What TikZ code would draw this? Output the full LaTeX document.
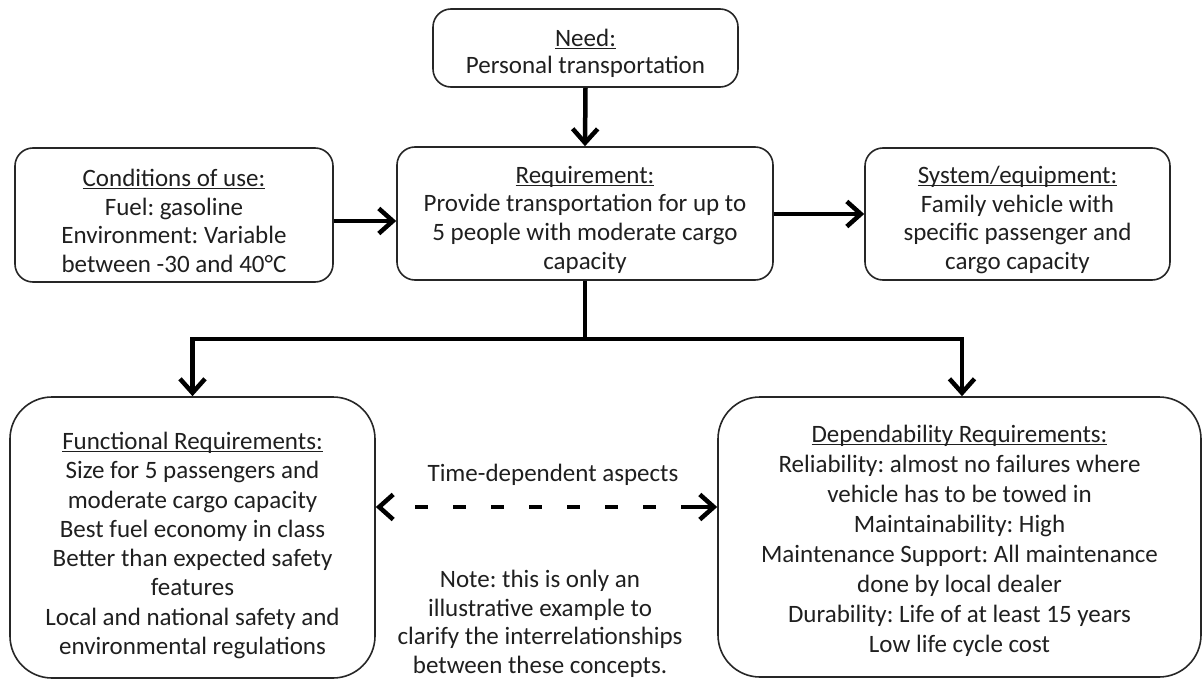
\documentclass[tikz,border=0pt]{standalone}
\usepackage{fontspec}
\setmainfont{Carlito}
\usetikzlibrary{arrows.meta}
% heading with an underline set just below the baseline
\newcommand\ulhead[1]{\setbox0\hbox{#1}\rlap{\rule[-2.8pt]{\wd0}{1.2pt}}\box0}
\tikzset{barb/.tip={Straight Barb[length=14pt,width=25pt]}}
\begin{document}
\frenchspacing
\begin{tikzpicture}[x=1pt,y=-1pt,
  box/.style={draw=black!85, line width=1.6pt, rounded corners=18pt, inner sep=0pt},
  bigbox/.style={box, rounded corners=42pt},
  txt/.style={align=center, inner sep=0pt, text=black!88, font=\fontsize{25}{28.7}\selectfont},
  conn/.style={line width=4.5pt, -{barb}},
]
\useasboundingbox (0,0) rectangle (1203,682);

% boxes
\node[box, minimum width=305pt, minimum height=78pt] (need) at (585.5,48) {};
\node[box, minimum width=318pt, minimum height=134pt] (cond) at (174,215) {};
\node[box, minimum width=376pt, minimum height=133pt] (req) at (585,213.5) {};
\node[box, minimum width=305pt, minimum height=132pt] (sys) at (1017.5,214) {};
\node[bigbox, minimum width=365pt, minimum height=281pt] (fun) at (192.5,537.5) {};
\node[bigbox, minimum width=483pt, minimum height=280pt] (dep) at (959.5,537) {};

% box contents
\node[txt, font=\fontsize{25}{27}\selectfont] (needt) at ([yshift=-5.5pt]need.center)
  {\ulhead{Need:}\\Personal transportation};
\node[txt] (condt) at ([yshift=-6pt]cond.center)
  {\ulhead{Conditions of use:}\\Fuel: gasoline\\Environment: Variable\\between -30 and 40°C};
\node[txt] (reqt) at ([yshift=-6pt]req.center)
  {\ulhead{Requirement:}\\Provide transportation for up to\\5 people with moderate cargo\\capacity};
\node[txt] (syst) at ([yshift=-6pt]sys.center)
  {\ulhead{System/equipment:}\\Family vehicle with\\specific passenger and\\cargo capacity};
\node[txt, font=\fontsize{25}{29.3}\selectfont] (funt) at ([yshift=-8pt]fun.center)
  {\ulhead{Functional Requirements:}\\Size for 5 passengers and\\moderate cargo capacity\\Best fuel economy in class\\Better than expected safety\\features\\Local and national safety and\\environmental regulations};
\node[txt, font=\fontsize{25}{30}\selectfont] (dept) at ([yshift=-4pt]dep.center)
  {\ulhead{Dependability Requirements:}\\Reliability: almost no failures where\\vehicle has to be towed in\\Maintainability: High\\Maintenance Support: All maintenance\\done by local dealer\\Durability: Life of at least 15 years\\Low life cycle cost};

% free texts
\node[txt] (tda) at (553,475) {Time-dependent aspects};
\node[txt, font=\fontsize{25}{28.5}\selectfont] (note) at (540,624)
  {Note: this is only an\\illustrative example to\\clarify the interrelationships\\between these concepts.};

\coordinate (split) at (585,339);
\coordinate (dl) at (fun.east |- 0,507);
\coordinate (dr) at (dep.west |- 0,507);

% connectors
\draw[conn] (need.south) -- (req.north);
\draw[conn] ([yshift=-6pt]cond.east) -- ([yshift=-6pt]cond.east -| req.west);
\draw[conn] (req.east |- sys.west) -- (sys.west);
\draw[line width=4.5pt] (req.south) -- (split);
\draw[conn] (split) -| (fun.north);
\draw[conn] (split) -| ([xshift=2.5pt]dep.north);
\draw[line width=4.5pt, {barb}-{barb},
  dash pattern=on 31pt off 25pt on 13pt off 25pt on 13pt off 25pt on 13pt off 25pt
    on 13pt off 25pt on 13pt off 25pt on 13pt off 25pt on 13pt off 60pt]
  (dr) -- (dl);
\end{tikzpicture}
\end{document}
